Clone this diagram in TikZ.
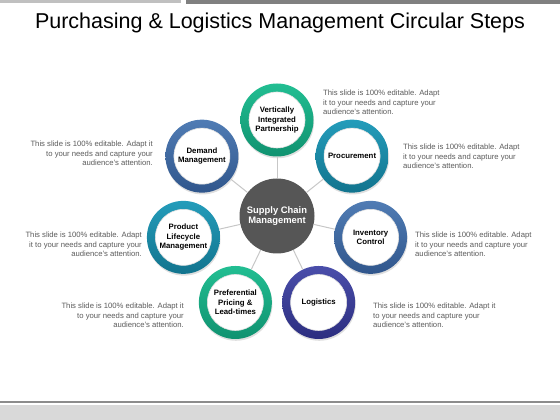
\documentclass[tikz,border=0pt]{standalone}
\usepackage{fontspec}
\setmainfont{Liberation Sans}
\usetikzlibrary{calc,shadows}
\definecolor{topgray}{RGB}{192,192,192}
\definecolor{topdark}{RGB}{128,128,128}
\definecolor{botgray}{RGB}{217,217,217}
\definecolor{botdark}{RGB}{140,140,140}
\definecolor{centergray}{RGB}{86,86,86}
\definecolor{descgray}{RGB}{90,90,90}
\definecolor{greenL}{RGB}{34,190,146}
\definecolor{greenD}{RGB}{16,146,112}
\definecolor{tealL}{RGB}{36,156,186}
\definecolor{tealD}{RGB}{18,116,142}
\definecolor{steelL}{RGB}{80,124,180}
\definecolor{steelD}{RGB}{48,86,140}
\definecolor{indigoL}{RGB}{74,78,170}
\definecolor{indigoD}{RGB}{44,46,128}
\begin{document}
\begin{tikzpicture}[x=1pt,y=1pt,
  conn/.style={draw=black!22, line width=1pt},
  ringnode/.style={circle, minimum size=73pt, inner sep=0pt,
    drop shadow={opacity=0.25, shadow xshift=0.6pt, shadow yshift=-1.8pt}},
  core/.style={circle, fill=white, draw=black!12, line width=0.6pt, minimum size=56pt, inner sep=0pt, align=center,
    font=\fontsize{7.8}{9.5}\selectfont\bfseries, text=black},
  desc/.style={inner sep=0pt, font=\fontsize{7.7}{9.5}\selectfont, text=descgray},
  hub/.style={circle, fill=centergray, minimum size=75pt, inner sep=0pt, align=center,
    font=\fontsize{9.4}{10.8}\selectfont\bfseries, text=white}
]
\useasboundingbox (0,0) rectangle (560,420);
% frame bars
\fill[topgray] (0,417) rectangle (181,420);
\fill[topdark] (186,416) rectangle (560,420);
\fill[botdark] (0,17) rectangle (560,19);
\fill[botgray] (0,0) rectangle (560,15);
% title
\node[font=\fontsize{21.5}{24}\selectfont, anchor=base, inner sep=0pt] (title) at (280,391)
  {Purchasing \& Logistics Management Circular Steps};
% hub
\node[hub] (C) at (277,204) {Supply Chain\\Management};
% rings
\node[ringnode, top color=greenL, bottom color=greenD] (V) at ($(C)+(90:96)$) {};
\node[ringnode, top color=tealL, bottom color=tealD] (P) at ($(C)+(38.57:96)$) {};
\node[ringnode, top color=steelL, bottom color=steelD] (I) at ($(C)+(-12.86:96)$) {};
\node[ringnode, top color=indigoL, bottom color=indigoD] (L) at ($(C)+(-64.29:96)$) {};
\node[ringnode, top color=greenL, bottom color=greenD] (R) at ($(C)+(-115.71:96)$) {};
\node[ringnode, top color=tealL, bottom color=tealD] (M) at ($(C)+(-167.14:96)$) {};
\node[ringnode, top color=steelL, bottom color=steelD] (D) at ($(C)+(141.43:96)$) {};
% inner labels
\node[core] (Vt) at (V) {Vertically\\Integrated\\Partnership};
\node[core] (Pt) at (P) {Procurement};
\node[core] (It) at (I) {Inventory\\Control};
\node[core] (Lt) at (L) {Logistics};
\node[core] (Rt) at (R) {Preferential\\Pricing \&\\Lead-times};
\node[core] (Mt) at (M) {Product\\Lifecycle\\Management};
\node[core] (Dt) at (D) {Demand\\Management};
% connectors
\foreach \n in {V,P,I,L,R,M,D} { \draw[conn] (C) -- (\n); }
% descriptions
\node[desc, anchor=north west, align=left] (dV) at (323,330)
  {This slide is 100\% editable. Adapt\\it to your needs and capture your\\audience's attention.};
\node[desc, anchor=north west, align=left] (dP) at (403,276)
  {This slide is 100\% editable. Adapt\\it to your needs and capture your\\audience's attention.};
\node[desc, anchor=north west, align=left] (dI) at (415,188)
  {This slide is 100\% editable. Adapt\\it to your needs and capture your\\audience's attention.};
\node[desc, anchor=north west, align=left] (dL) at (373,117)
  {This slide is 100\% editable. Adapt it\\to your needs and capture your\\audience's attention.};
\node[desc, anchor=north east, align=right] (dD) at (153,279)
  {This slide is 100\% editable. Adapt it\\to your needs and capture your\\audience's attention.};
\node[desc, anchor=north east, align=right] (dM) at (142,188)
  {This slide is 100\% editable. Adapt\\it to your needs and capture your\\audience's attention.};
\node[desc, anchor=north east, align=right] (dR) at (184,117)
  {This slide is 100\% editable. Adapt it\\to your needs and capture your\\audience's attention.};
\end{tikzpicture}
\end{document}
